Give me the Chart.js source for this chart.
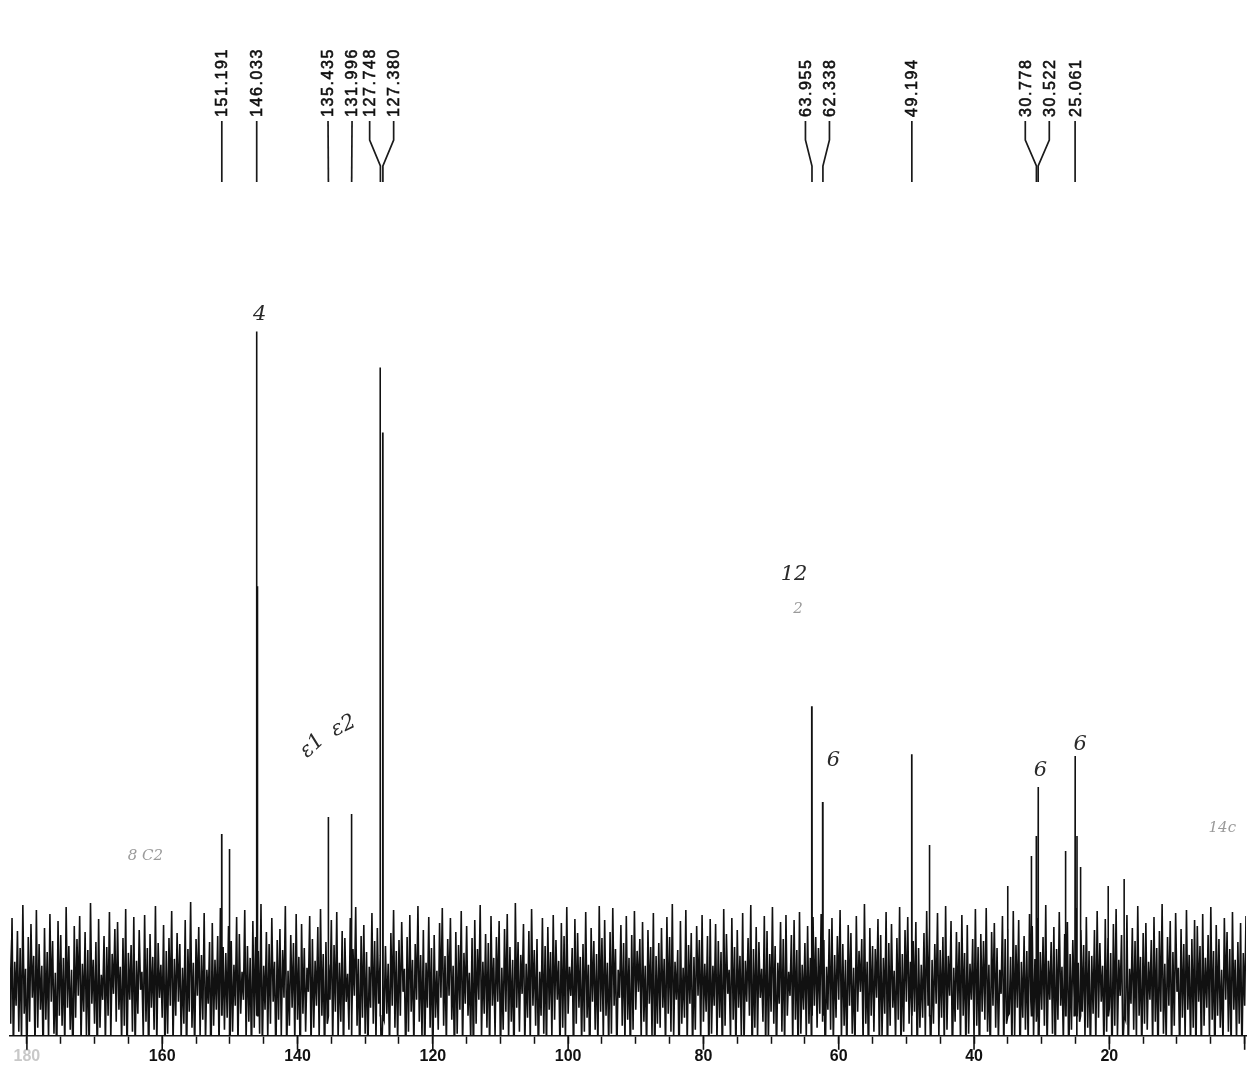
<!DOCTYPE html>
<html>
<head>
<meta charset="utf-8">
<script src="https://cdn.jsdelivr.net/npm/chart.js@4/dist/chart.umd.min.js"></script>
<style>
    body { margin:0; background:#fff; }
    #wrap { width:1249px; height:1069px; }
</style>
</head>
<body>
<div id="wrap"><canvas id="spec" width="1249" height="1069"></canvas></div>
<script>

// 13C spectrum, ppm axis runs right to left
const ppmHigh = 182.5;
const ppmLow = -0.2;
const sampleStart = 182.6;
const sampleStep = 0.4;

// baseline noise: upper swing of each sample
const noiseTops = [
    96,118,74,105,88,131,67,99,112,80,126,92,70,108,84,122,95,63,115,101,
    78,129,90,66,110,97,120,72,104,86,133,76,94,117,61,100,89,124,82,107,
    114,69,98,127,83,91,119,75,106,64,121,88,102,79,130,93,71,111,85,98,
    125,77,103,92,68,116,87,134,73,97,109,81,123,66,94,113,76,100,128,89,
    83,110,95,71,119,102,64,126,90,78,115,99,85,132,70,104,92,118,74,96,
    107,86,130,65,101,93,122,79,112,88,68,120,97,75,109,127,82,94,71,116,
    91,124,73,105,98,62,118,87,129,77,100,111,84,69,123,95,108,80,117,90,
    72,103,126,85,96,114,67,99,121,76,92,130,81,106,73,119,88,101,65,113,
    128,80,97,118,70,104,91,125,83,110,63,98,116,87,131,74,102,93,120,78,
    99,115,68,107,122,89,76,133,94,81,112,72,105,127,86,97,64,118,90,109,
    84,121,96,75,113,100,129,69,88,117,103,79,92,124,71,108,95,82,130,98,
    116,73,104,128,87,66,111,93,120,78,101,125,85,97,114,70,106,89,123,80,
    93,108,77,119,99,132,74,86,115,68,126,91,103,79,110,96,121,72,100,117,
    70,112,95,84,127,102,66,118,89,106,80,123,75,98,131,87,109,94,67,120,
    105,82,129,90,73,114,97,121,64,101,116,86,124,71,93,110,78,119,99,88,
    122,96,69,107,118,81,100,126,92,76,111,103,68,120,85,97,132,74,108,90,
    87,117,101,78,124,93,112,65,98,129,82,106,119,74,95,114,88,71,103,125,
    109,76,92,123,86,99,130,80,115,68,104,94,121,83,111,72,97,127,89,102,
    95,128,71,104,113,88,66,120,97,107,79,125,91,116,74,100,85,122,110,77,
    118,84,99,131,75,94,109,87,124,69,102,114,82,96,128,73,106,91,119,85,
    80,106,125,93,70,117,98,83,112,127,76,101,89,121,67,108,95,130,79,103,
    113,74,96,119,88,105,132,72,99,115,84,123,68,107,92,126,81,97,116,110,
    90,122,78,101,129,85,111,97,66,118,104,87,124,76,94,113,83,120,71,128
];

// lower swing of each sample
const noiseBottoms = [
    12,-18,30,4,-6,22,-30,14,38,-12,8,26,-22,16,-4,34,2,-26,20,10,
    -14,28,6,-32,18,40,-8,24,0,-20,32,12,-28,8,36,-10,20,-4,42,14,
    26,-6,10,-24,36,4,-16,22,46,-2,14,-30,28,6,-12,38,18,-20,2,30,
    -10,20,34,-4,12,-26,24,8,-18,40,0,16,-8,32,-34,10,26,-14,44,6,
    18,-28,4,30,-12,22,36,-6,14,-22,8,42,2,-16,26,-2,12,34,-24,16,
    0,38,-20,10,28,-8,16,-30,22,4,44,-14,8,30,-4,20,-26,12,36,-10,
    24,-4,14,-22,34,6,-12,40,10,-28,18,2,-18,28,12,-6,32,-32,16,22,
    -16,30,8,-8,20,44,-26,4,24,-12,36,14,-2,-20,28,8,-30,18,6,38,
    10,-10,40,16,-24,2,26,-14,32,20,-6,-28,12,36,-2,22,8,-18,30,0,
    34,-22,6,24,-4,14,-30,28,4,42,-12,18,-8,30,10,-24,20,2,-16,26,
    -2,16,36,-18,8,-6,22,40,-26,12,28,-10,4,18,-32,34,6,-14,24,-4,
    20,-12,2,30,-20,38,10,-8,16,-24,6,26,44,-4,14,-16,32,0,-28,12,
    8,28,-14,22,4,-2,36,-30,12,18,-10,32,-20,6,40,-6,14,24,-22,2,
    30,-8,18,-26,10,42,-4,16,-18,28,0,-12,34,20,-28,8,-2,38,14,-16,
    -6,24,12,-20,32,4,-14,20,40,-10,16,-24,2,26,-2,12,-32,30,8,22,
    14,-30,26,6,-10,18,36,-4,10,-22,30,2,-16,24,44,-8,12,-26,20,4,
    38,-14,0,22,-24,10,28,-6,16,-18,4,34,12,-10,24,-28,8,18,-2,30,
    -20,12,32,-2,18,-12,6,40,-26,14,26,-8,20,-16,2,36,-4,10,-30,24,
    16,4,-22,30,8,-6,42,-18,12,22,-12,0,28,-28,18,6,-10,34,-2,14,
    -4,26,10,-16,36,2,-24,16,30,-8,20,-30,6,38,-12,14,24,-2,8,-20,
    22,-8,18,34,-14,4,28,-26,10,0,40,-12,16,-22,32,6,-4,20,-18,12,
    6,36,-12,14,-28,24,2,-6,30,-16,10,44,-20,18,-4,26,-10,8,-24,34,
    -18,10,28,-2,16,-30,20,8,-10,36,4,-14,26,-6,12,-22,30,2,18,-8
];

// signals (ppm) and their heights
const peakShifts = [
    151.191, 150.05, 146.033, 145.90, 135.435, 131.996, 127.748, 127.380,
    63.955, 62.338, 49.194, 46.55, 35.0, 31.5, 30.778, 30.522,
    26.45, 25.061, 24.78, 24.25, 20.15, 17.8
];
const peakHeights = [
    202, 187, 705, 450, 219, 222, 669, 604,
    330, 234, 282, 191, 150, 180, 200, 249,
    185, 280, 200, 169, 150, 157
];
const peakFoot = 20;

// printed peak list above the spectrum
const peakLabels = [
    "151.191", "146.033", "135.435", "131.996", "127.748", "127.380",
    "63.955", "62.338", "49.194", "30.778", "30.522", "25.061"
];

// handwritten notes on the paper
const noteTexts = ["4", "ε1", "ε2", "12", "2", "6", "6", "6", "8 C2", "14c"];
const notePpm = [145.6, 137.8, 133.2, 66.6, 66.0, 60.8, 30.2, 24.3, 162.5, 3.3];
const noteLevel = [722, 290, 310, 462, 427, 276, 266, 292, 180, 208];

const majorStep = 20;
const minorStep = 5;


function buildSpectrum() {

    const pts = [];

    noiseTops.forEach((v, i) => {
        pts.push({ x: sampleStart - i * sampleStep, y: v });
    });

    noiseBottoms.forEach((v, i) => {
        pts.push({ x: sampleStart - (i + 0.5) * sampleStep, y: v });
    });

    peakShifts.forEach((p, i) => {
        pts.push({ x: p + 0.03, y: peakFoot });
        pts.push({ x: p, y: peakHeights[i] });
        pts.push({ x: p - 0.03, y: peakFoot });
    });

    pts.sort((a, b) => a.x - b.x);

    return pts;
}


const peakListPlugin = {

    id: "peakList",

    afterDraw(chart) {

        const ctx = chart.ctx;
        const xs = chart.scales.x;

        // wanted positions, then push apart labels that would overlap
        const wanted = peakLabels.map(t => xs.getPixelForValue(parseFloat(t)));
        const minGap = 24;
        const groups = [];

        wanted.forEach((px, i) => {
            const last = groups[groups.length - 1];
            if (last && px - wanted[last[last.length - 1]] < minGap) {
                last.push(i);
            } else {
                groups.push([i]);
            }
        });

        const placed = [];
        groups.forEach(g => {
            const mid = g.reduce((s, i) => s + wanted[i], 0) / g.length;
            g.forEach((i, k) => {
                placed[i] = mid + (k - (g.length - 1) / 2) * minGap;
            });
        });

        ctx.save();

        ctx.strokeStyle = "#1a1a1a";
        ctx.lineWidth = 1.7;

        peakLabels.forEach((t, i) => {

            const lx = placed[i];
            const px = wanted[i];

            ctx.beginPath();
            ctx.moveTo(lx, 121);
            if (Math.abs(lx - px) < 1) {
                ctx.lineTo(px, 182);
            } else {
                ctx.lineTo(lx, 140);
                ctx.lineTo(px, 166);
                ctx.lineTo(px, 182);
            }
            ctx.stroke();

            ctx.save();
            ctx.translate(lx, 117);
            ctx.rotate(-Math.PI / 2);
            ctx.font = "16px 'Liberation Sans', Arial, sans-serif";
            ctx.letterSpacing = "1.6px";
            ctx.fillStyle = "#111";
            ctx.strokeStyle = "#111";
            ctx.lineWidth = 0.6;
            ctx.textAlign = "left";
            ctx.textBaseline = "middle";
            ctx.fillText(t, 0, 1);
            ctx.strokeText(t, 0, 1);
            ctx.restore();
        });

        ctx.restore();
    }
};


const notesPlugin = {

    id: "notes",

    afterDraw(chart) {

        const ctx = chart.ctx;
        const xs = chart.scales.x;
        const ys = chart.scales.y;

        ctx.save();

        noteTexts.forEach((t, i) => {

            const x = xs.getPixelForValue(notePpm[i]);
            const y = ys.getPixelForValue(noteLevel[i]);
            const faint = (t === "8 C2" || t === "14c" || t === "2");

            ctx.save();
            ctx.translate(x, y);
            if (t === "ε1") ctx.rotate(-0.75);
            if (t === "ε2") ctx.rotate(-0.45);
            ctx.font = (faint ? "italic 15px" : "italic 21px") + " 'DejaVu Serif', serif";
            ctx.fillStyle = faint ? "#9a9a9a" : "#2a2a2a";
            ctx.textAlign = "center";
            ctx.textBaseline = "middle";
            ctx.fillText(t, 0, 0);
            ctx.restore();
        });

        ctx.restore();
    }
};


const majorTickPlugin = {

    id: "majorTicks",

    afterDraw(chart) {

        const ctx = chart.ctx;
        const xs = chart.scales.x;
        const bottom = chart.chartArea.bottom;

        ctx.save();
        ctx.strokeStyle = "#111";
        ctx.lineWidth = 1.6;

        xs.ticks.forEach(t => {
            if (t.value % majorStep === 0) {
                const px = xs.getPixelForValue(t.value);
                ctx.beginPath();
                ctx.moveTo(px, bottom);
                ctx.lineTo(px, bottom + 14);
                ctx.stroke();
            }
        });

        ctx.restore();
    }
};


new Chart(

    document.getElementById("spec"),

    {
        type: "line",

        data: {
            datasets: [
                {
                    label: "13C",
                    data: buildSpectrum(),
                    borderColor: "#111",
                    borderWidth: 1.6,
                    pointRadius: 0,
                    tension: 0,
                    fill: false
                }
            ]
        },

        options: {

            responsive: false,
            animation: false,
            events: [],

            layout: {
                padding: { left: 10, right: 3, top: 0, bottom: 0 }
            },

            plugins: {
                legend: { display: false },
                tooltip: { enabled: false }
            },

            scales: {

                x: {
                    type: "linear",
                    reverse: true,
                    min: ppmLow,
                    max: ppmHigh,
                    border: { display: true, color: "#111", width: 1.6 },
                    grid: {
                        drawOnChartArea: false,
                        drawTicks: true,
                        tickLength: 8,
                        tickColor: "#111",
                        tickWidth: 1.5
                    },
                    ticks: {
                        stepSize: minorStep,
                        autoSkip: false,
                        includeBounds: false,
                        maxRotation: 0,
                        padding: 3,
                        color: c => c.tick && c.tick.value === 180 ? "#c8c8c8" : "#111",
                        font: { family: "'Liberation Sans', Arial, sans-serif", size: 16, weight: "bold" },
                        callback: v => (v % majorStep === 0 && v > 0) ? String(v) : ""
                    }
                },

                y: {
                    display: false,
                    min: 0,
                    max: 1037
                }
            }
        },

        plugins: [peakListPlugin, notesPlugin, majorTickPlugin]
    }
);

</script>
</body>
</html>
